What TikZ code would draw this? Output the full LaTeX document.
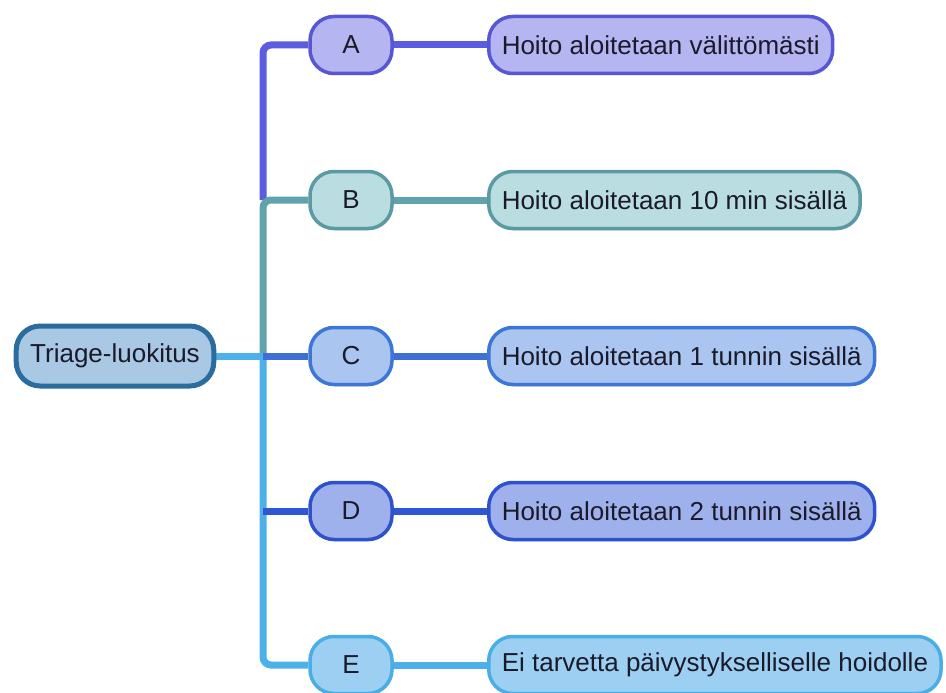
\documentclass[tikz,border=0pt]{standalone}
\usepackage{fontspec}
\setmainfont{Liberation Sans}
\usetikzlibrary{shadows}
\pgfdeclarelayer{background}
\pgfsetlayers{background,main}
\definecolor{lineA}{HTML}{5B5CE0}
\definecolor{fillA}{HTML}{B5B5F2}
\definecolor{drawA}{HTML}{5757D6}
\definecolor{lineB}{HTML}{5FA3AD}
\definecolor{fillB}{HTML}{B9DDE1}
\definecolor{drawB}{HTML}{5B9AA5}
\definecolor{lineC}{HTML}{3D6FD6}
\definecolor{fillC}{HTML}{AAC5F0}
\definecolor{drawC}{HTML}{3C76D6}
\definecolor{lineD}{HTML}{2F57D3}
\definecolor{fillD}{HTML}{9FB1ED}
\definecolor{drawD}{HTML}{2D52CC}
\definecolor{lineE}{HTML}{4DB0E8}
\definecolor{fillE}{HTML}{9CCFF2}
\definecolor{drawE}{HTML}{4AAEE6}
\definecolor{drawR}{HTML}{2A6C9E}
\definecolor{fillR}{HTML}{A8C8E3}
\definecolor{txt}{HTML}{1A1A2A}
\tikzset{
  box/.style={rounded corners=24pt, line width=3.5pt, text=txt,
    font=\fontsize{26}{30}\selectfont, minimum height=57pt,
    drop shadow={opacity=0.2, shadow xshift=1pt, shadow yshift=-2pt}},
  letter/.style={box, minimum width=82pt, inner xsep=0pt},
  desc/.style={box, anchor=west, inner xsep=13pt},
  conn/.style={line width=7pt, rounded corners=8pt},
}
\begin{document}
\begin{tikzpicture}[x=1pt,y=-1pt]
\useasboundingbox (0,0) rectangle (946,693);
% coordinates on trunk
\coordinate (tB) at (263,200);
\coordinate (tC) at (263,356);
\coordinate (tD) at (263,511);
\coordinate (tE) at (263,665);
% nodes
\node[box, fill=fillR, draw=drawR, line width=5pt, inner xsep=14pt,
  minimum height=60pt, font=\fontsize{26}{30}\selectfont] (R) at (115,356) {Triage-luokitus};
\node[letter, fill=fillA, draw=drawA] (A) at (351,45) {A};
\node[letter, fill=fillB, draw=drawB] (B) at (351,200) {B};
\node[letter, fill=fillC, draw=drawC] (C) at (351,356) {C};
\node[letter, fill=fillD, draw=drawD] (D) at (351,511) {D};
\node[letter, fill=fillE, draw=drawE] (E) at (351,665) {E};
\node[desc, fill=fillA, draw=drawA] (dA) at (487,45) {Hoito aloitetaan välittömästi};
\node[desc, fill=fillB, draw=drawB] (dB) at (487,200) {Hoito aloitetaan 10 min sisällä};
\node[desc, fill=fillC, draw=drawC] (dC) at (487,356) {Hoito aloitetaan 1 tunnin sisällä};
\node[desc, fill=fillD, draw=drawD] (dD) at (487,511) {Hoito aloitetaan 2 tunnin sisällä};
\node[desc, fill=fillE, draw=drawE] (dE) at (487,665) {Ei tarvetta päivystykselliselle hoidolle};
% connectors
\begin{pgfonlayer}{background}
\draw[conn, lineA] (A.west) -| (tB);
\draw[conn, lineB] (B.west) -- (tB) -- (tC);
\draw[conn, lineE] (tC) -- (tE) -- (E.west);
\draw[conn, lineE] (R.east) -- (tC);
\draw[conn, lineC] (tC) -- (C.west);
\draw[conn, lineD] (tD) -- (D.west);
\draw[conn, lineA] (A.east) -- (dA.west);
\draw[conn, lineB] (B.east) -- (dB.west);
\draw[conn, lineC] (C.east) -- (dC.west);
\draw[conn, lineD] (D.east) -- (dD.west);
\draw[conn, lineE] (E.east) -- (dE.west);
\end{pgfonlayer}
\end{tikzpicture}
\end{document}
